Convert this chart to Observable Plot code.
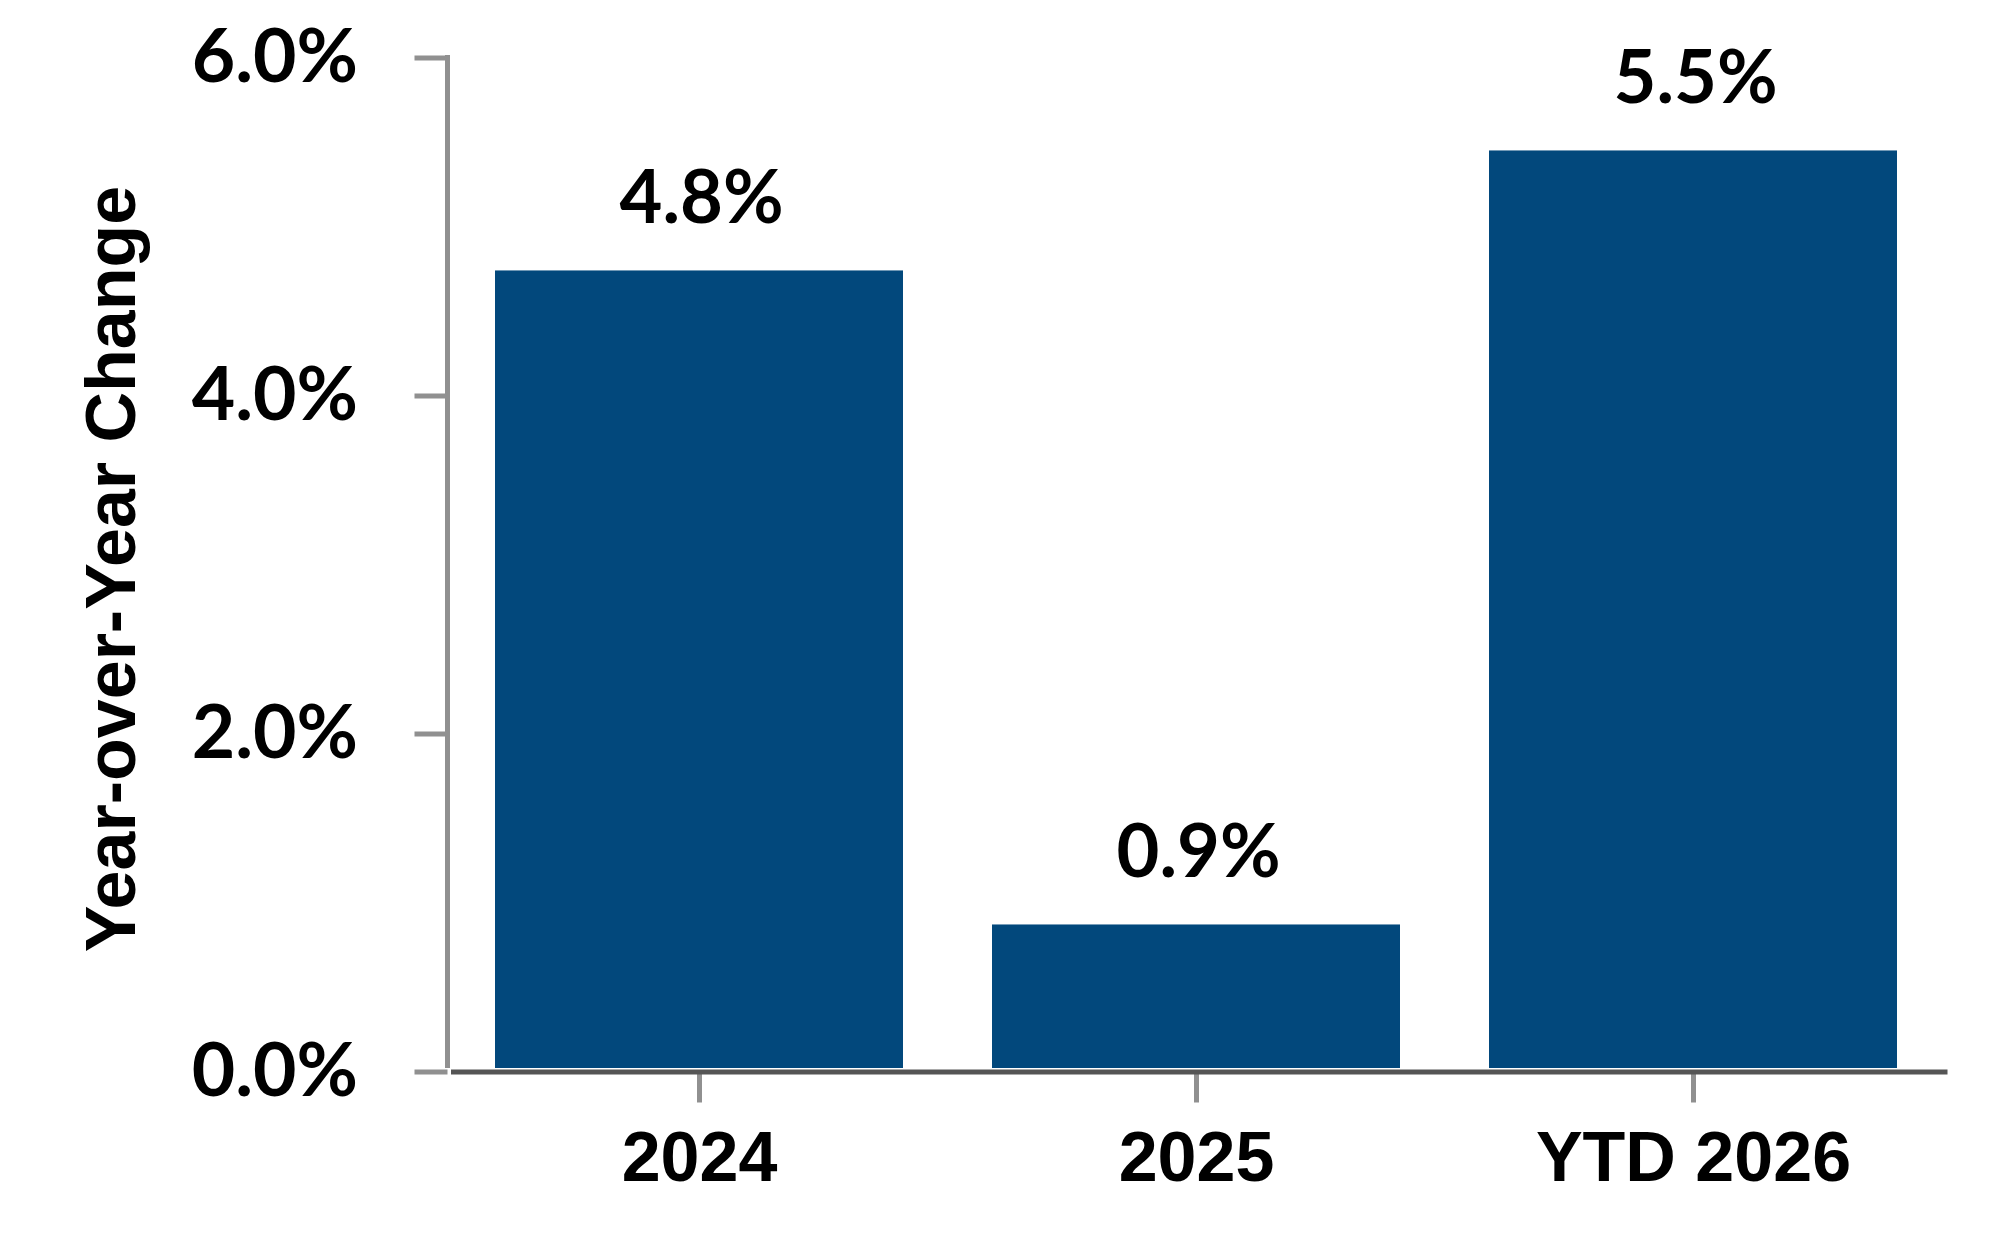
<!DOCTYPE html>
<html>
<head>
<meta charset="utf-8">
<script src="https://cdn.jsdelivr.net/npm/d3@7"></script>
<script src="https://cdn.jsdelivr.net/npm/@observablehq/plot@0.6"></script>
<style>
  html, body { margin: 0; padding: 0; background: #fff; }
  #chart svg { display: block; }
</style>
</head>
<body>
<div id="chart"></div>
<script>
// ---- data ----
const categories = ["2024", "2025", "YTD 2026"];
const values = [4.74, 0.87, 5.45];
const valueLabels = ["4.8%", "0.9%", "5.5%"];
const yTicks = [0, 2, 4, 6];
const yTickLabels = ["0.0%", "2.0%", "4.0%", "6.0%"];
const yTitle = "Year-over-Year Change";

const data = categories.map((c, i) => ({category: c, value: values[i], label: valueLabels[i]}));

const barColor = "#02487c";
const tickGray = "#909090";
const axisDark = "#555555";

// y-axis line drawn through Plot's own scales/dimensions
const yAxisLine = (index, scales, values, dims) => {
  const x = dims.marginLeft;
  const line = d3.create("svg:line")
    .attr("x1", x).attr("x2", x)
    .attr("y1", scales.y(6) - 2.5)
    .attr("y2", scales.y(0) - 3.5)
    .attr("stroke", tickGray)
    .attr("stroke-width", 5);
  return line.node();
};

const chart = Plot.plot({
  width: 2004,
  height: 1260,
  marginLeft: 447.5,
  marginRight: 60,
  marginTop: 57.5,
  marginBottom: 188.5,
  style: {background: "#fff", color: "#000", overflow: "visible"},
  x: {domain: categories, paddingInner: 0.18, paddingOuter: 0.095, axis: null},
  y: {domain: [0, 6], axis: null},
  marks: [
    Plot.barY(data, {x: "category", y: "value", fill: barColor, insetBottom: 3.5}),
    Plot.axisY(yTicks, {
      anchor: "left",
      tickSize: 33,
      tickPadding: 57,
      stroke: tickGray,
      strokeWidth: 5,
      tickFormat: (d) => yTickLabels[yTicks.indexOf(d)],
      fontFamily: "Lato",
      fontSize: 75,
      fontWeight: 700,
      fill: "#000",
      label: null
    }),
    Plot.axisX(categories, {
      anchor: "bottom",
      tickSize: 31,
      tickPadding: 28,
      stroke: tickGray,
      strokeWidth: 5,
      fontFamily: "Liberation Sans",
      fontSize: 70,
      fontWeight: 700,
      fill: "#000",
      label: null
    }),
    yAxisLine,
    Plot.ruleY([0], {stroke: axisDark, strokeWidth: 5, dx: 3.5}),
    Plot.text(data, {
      x: "category",
      y: "value",
      text: "label",
      dy: -48,
      dx: 2,
      lineAnchor: "bottom",
      fontFamily: "Lato",
      fontSize: 74,
      fontWeight: 700,
      fill: "#000"
    }),
    Plot.text([yTitle], {
      frameAnchor: "left",
      rotate: -90,
      dx: -335,
      dy: 4,
      textAnchor: "middle",
      lineAnchor: "middle",
      fontFamily: "Liberation Sans",
      fontSize: 70,
      fontWeight: 700,
      fill: "#000"
    })
  ]
});

document.getElementById("chart").appendChild(chart);
</script>
</body>
</html>
